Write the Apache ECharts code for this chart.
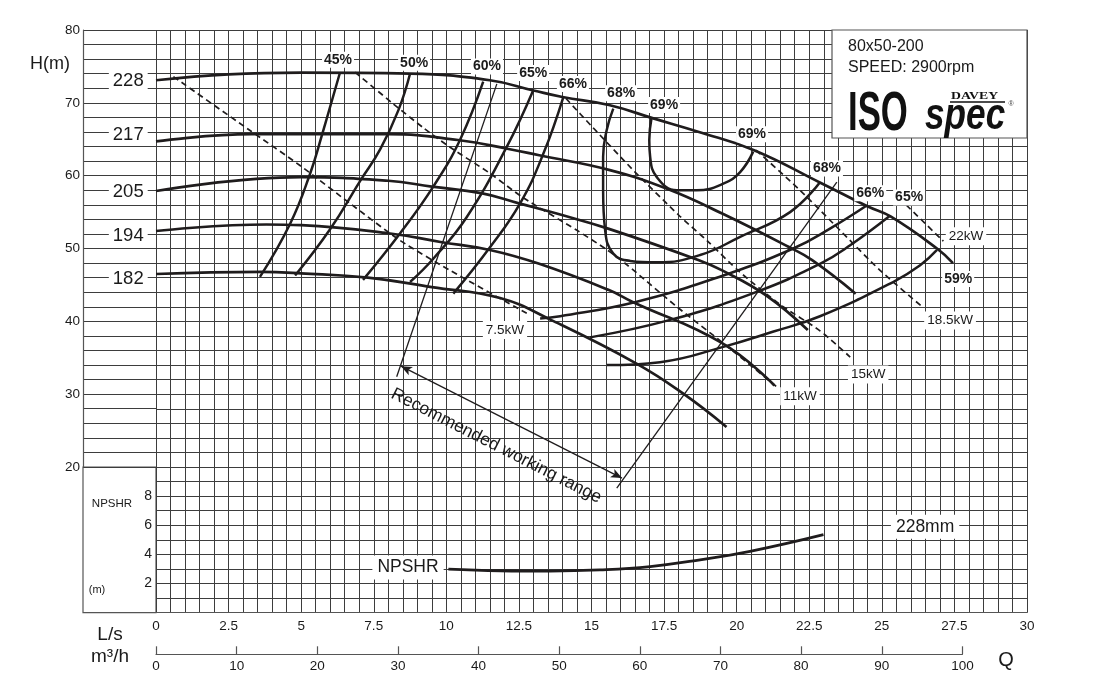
<!DOCTYPE html>
<html><head><meta charset="utf-8">
<script src="https://cdn.jsdelivr.net/npm/echarts@6/dist/echarts.min.js"></script>
<style>html,body{margin:0;padding:0;background:#fff}#c{width:1105px;height:697px}</style>
</head><body><div id="c"></div>
<script>
// ---------- tick labels ----------
const flowLsTicks = [0,2.5,5,7.5,10,12.5,15,17.5,20,22.5,25,27.5,30];
const flowM3hTicks = [0,10,20,30,40,50,60,70,80,90,100];
const headTicks = [20,30,40,50,60,70,80];
const npshTicks = [2,4,6,8];

// ---------- impeller H-Q curves [Q L/s, H m] ----------
const impellerNames = ['228','217','205','194','182'];
const impellerLabelHead = [73.0,65.6,57.8,51.7,45.8];
const h228 = [[0,73.1],[2.5,73.9],[5,74.15],[8.75,74.0],[11.5,73.1],[13,71.7],[14,70.8],[15.6,69.7],[17.1,67.9],[18.7,66.0],[20.6,63.5],[22.9,59.0],[24.5,55.8],[25.3,54.4],[26.9,50.0],[27.45,48.0]];
const h217 = [[0,64.7],[3.3,65.7],[8.0,65.7],[10.4,64.9],[12.1,63.7],[13.2,62.8],[15.6,60.8],[17.6,58.2],[19.5,54.8],[21.8,50.2],[22.6,48.4],[24.1,43.8]];
const h205 = [[0,57.9],[5.0,59.8],[8.0,59.3],[9.5,58.5],[11.2,57.6],[12.5,56.2],[13.8,54.8],[15.6,52.7],[18.7,48.4],[19.5,47.0],[21.0,43.6],[22.45,38.8]];
const h194 = [[0,52.4],[3.8,53.3],[5.0,53.2],[8.0,52.1],[9.8,50.9],[11.5,49.8],[13.2,47.9],[15.6,44.3],[16.4,42.7],[19.5,37.0],[21.3,31.2]];
const h182 = [[0,46.5],[3.6,46.8],[5.0,46.6],[7.3,46.0],[9.5,44.7],[11.85,43.2],[13.6,40.2],[16.55,34.2],[18.15,30.1],[19.65,25.5]];

// ---------- iso-efficiency curves ----------
const e45 = [[3.58,46.1],[4.62,53.4],[5.31,60.3],[5.71,65.5],[6.34,74.2]];
const e50 = [[4.79,46.3],[5.99,52.6],[7.05,59.4],[7.72,63.6],[8.35,69.0],[8.75,74.0]];
const e60 = [[7.13,45.7],[8.41,52.1],[9.55,58.5],[10.47,64.9],[11.27,72.9]];
const e65 = [[8.75,45.4],[9.55,48.6],[10.70,54.3],[12.08,63.95],[12.99,71.7]];
const e66 = [[10.24,43.8],[11.51,50.2],[12.54,56.2],[13.34,63.0],[14.03,70.8]];
const e68 = [[15.75,69.2],[15.52,66.2],[15.4,62.6],[15.4,58.0],[15.47,52.5],[15.75,49.3],[16.33,48.3],[17.25,48.1],[18.74,49.1],[20.12,51.6],[21.84,55.0],[22.87,59.1]];
const e69 = [[17.07,68.0],[16.99,64.9],[17.02,62.6],[17.25,59.8],[17.94,58.0],[18.62,58.0],[19.54,58.9],[20.12,60.5],[20.57,63.3]];
const e66R = [[13.23,40.4],[13.92,40.7],[16.56,42.7],[19.54,46.3],[21.95,50.0],[23.2,52.7],[24.48,55.9]];
const e65R = [[14.95,37.8],[17.71,40.2],[20.69,44.05],[22.87,47.9],[23.91,50.45],[25.28,54.5]];
const e59 = [[15.53,34.0],[17.36,34.4],[19.54,36.5],[21.27,38.6],[22.87,40.7],[25.39,45.4],[26.32,47.7],[26.9,49.8]];

// ---------- power lines (dashed) ----------
const p7_5 = [[0.6,73.6],[3.24,66.2],[4.96,61.4],[6.68,56.2],[8.41,51.1],[10.13,47.0],[12.77,41.1]];
const p11 = [[6.86,74.2],[8.16,69.9],[9.2,66.6],[10.13,63.9],[11.51,60.3],[12.64,57.0],[14.5,52.5],[15.54,49.8],[16.21,47.8],[17.94,42.0],[19.54,37.0],[21.38,31.0]];
const p15 = [[14.12,70.6],[15.05,66.6],[16.5,60.5],[18.0,54.6],[19.0,51.0],[20.1,46.8],[21.5,42.3],[22.87,38.7],[23.91,35.1]];
const p18_5 = [[20.67,63.5],[22.18,58.0],[23.56,52.5],[24.94,47.0],[26.42,41.9]];
const p22 = [[25.6,56.9],[27.12,51.0]];

// ---------- recommended working range ----------
const rangeLeft = [[8.29,32.4],[11.74,72.6]];
const rangeRight = [[15.87,17.1],[23.45,59.1]];
const rangeArrow = [[8.44,33.85],[16.05,18.48]];

// ---------- NPSHR [Q L/s, NPSHR m] ----------
const npshr = [[10.07,2.99],[11.85,2.88],[13.57,2.86],[15.29,2.94],[17.02,3.17],[18.74,3.63],[20.46,4.21],[22.99,5.36]];

// ---------- annotation labels [Q, H, text] ----------
const effLabels = [[6.27,75.9,'45%'],[8.89,75.5,'50%'],[11.40,75.0,'60%'],[12.99,74.1,'65%'],[14.36,72.6,'66%'],[16.02,71.3,'68%'],[17.5,69.7,'69%'],[20.53,65.7,'69%'],[23.11,61.0,'68%'],[24.6,57.6,'66%'],[25.94,57.0,'65%'],[27.63,45.8,'59%']];
const powerLabels = [[12.02,38.8,'7.5kW'],[22.18,29.7,'11kW'],[24.53,32.7,'15kW'],[27.35,40.1,'18.5kW'],[27.9,51.7,'22kW']];
const otherLabels = [[8.68,6.2,'NPSHR'],[26.49,11.8,'228mm']];
const rangeText = [[11.72,22.9,'Recommended working range']];

const FONT = '"Liberation Sans", Arial, Helvetica, sans-serif';
const INK = '#1f1c1d';
const GRIDC = '#3d3d3d';
const near = (arr, v) => arr.some(t => Math.abs(t - v) < 1e-6);

function curve(name, data, extra) {
  return Object.assign({
    type: 'line', name, data, xAxisIndex: 0, yAxisIndex: 0,
    symbol: 'none', showSymbol: false, smooth: 0.45, silent: true, z: 3,
    lineStyle: { color: INK, width: 2.7 }
  }, extra || {});
}
const eff = { lineStyle: { color: INK, width: 2.5 } };
const dashed = { lineStyle: { color: INK, width: 1.7, type: [6, 4] }, smooth: 0.25, z: 2 };
const thin = { lineStyle: { color: INK, width: 1.3 }, smooth: false, z: 2 };

function labelSeries(data, label, xi, yi) {
  return {
    type: 'scatter', xAxisIndex: xi || 0, yAxisIndex: yi || 0, silent: true, z: 10,
    symbolSize: 0.01, itemStyle: { color: '#fff', opacity: 1 },
    data: data,
    label: Object.assign({
      show: true, position: 'inside', formatter: p => p.data[2], opacity: 1,
      color: '#1a1a1a', fontFamily: FONT, backgroundColor: '#fff'
    }, label)
  };
}

const series = [
  curve('228', h228), curve('217', h217), curve('205', h205), curve('194', h194), curve('182', h182),
  curve('45%', e45, eff), curve('50%', e50, eff), curve('60%', e60, eff), curve('65%', e65, eff), curve('66%', e66, eff),
  curve('68%', e68, eff), curve('69%', e69, eff),
  curve('66% R', e66R, eff), curve('65% R', e65R, eff), curve('59%', e59, eff),
  curve('7.5kW', p7_5, dashed), curve('11kW', p11, dashed), curve('15kW', p15, dashed),
  curve('18.5kW', p18_5, dashed), curve('22kW', p22, dashed),
  curve('range L', rangeLeft, thin), curve('range R', rangeRight, thin),
  {
    type: 'line', xAxisIndex: 0, yAxisIndex: 0, data: [], silent: true, z: 2,
    markLine: {
      silent: true, animation: false, symbol: ['arrow', 'arrow'], symbolSize: [7, 11],
      label: { show: false },
      lineStyle: { color: INK, width: 1.3, type: 'solid' },
      data: [[{ coord: rangeArrow[0] }, { coord: rangeArrow[1] }]]
    }
  },
  curve('NPSHR', npshr, { yAxisIndex: 1, lineStyle: { color: INK, width: 2.8 } }),
  labelSeries(effLabels, { fontSize: 14, fontWeight: 'bold', padding: [1, 2] }),
  labelSeries(powerLabels, { fontSize: 13.5, padding: [2, 3] }),
  labelSeries(otherLabels, { fontSize: 17.5, padding: [3, 5] }),
  labelSeries(rangeText, { fontSize: 17.5, rotate: -27, backgroundColor: 'transparent' }),
  labelSeries(impellerNames.map((n, i) => [0.62, impellerLabelHead[i], n]), { fontSize: 18.5, padding: [1, 4] }, 1, 2)
];

const axisLineStyle = { color: '#555', width: 1.2 };
const splitStyle = { show: true, lineStyle: { color: GRIDC, width: 1 } };

const option = {
  animation: false,
  backgroundColor: '#fff',
  textStyle: { fontFamily: FONT },
  grid: [
    { left: 156, right: 78, top: 30, bottom: 84.3 },
    { left: 83, width: 73, top: 30, bottom: 230 },
    { left: 83, width: 73, top: 467, bottom: 84.3, show: true, borderColor: '#555', borderWidth: 1.2, backgroundColor: 'transparent' },
    { left: 156, right: 142.6, top: 600, bottom: 42.7 }
  ],
  xAxis: [
    { type: 'value', gridIndex: 0, min: 0, max: 30, interval: 0.5,
      axisLine: { show: true, onZero: false, lineStyle: axisLineStyle }, axisTick: { show: false },
      axisLabel: { formatter: v => near(flowLsTicks, v) ? String(v) : '', margin: 7, color: '#1a1a1a', fontSize: 13.5, fontFamily: FONT, showMinLabel: true, showMaxLabel: true },
      splitLine: splitStyle },
    { type: 'value', gridIndex: 1, min: 0, max: 1, show: false },
    { type: 'value', gridIndex: 2, min: 0, max: 1, show: false },
    { type: 'value', gridIndex: 3, min: 0, max: 100, interval: 10,
      axisLine: { show: true, onZero: false, lineStyle: axisLineStyle },
      axisTick: { show: true, inside: true, length: 8, lineStyle: axisLineStyle },
      axisLabel: { formatter: v => near(flowM3hTicks, v) ? String(v) : '', margin: 5, color: '#1a1a1a', fontSize: 13.5, fontFamily: FONT, showMinLabel: true, showMaxLabel: true },
      splitLine: { show: false } }
  ],
  yAxis: [
    { type: 'value', gridIndex: 0, min: 0, max: 80, interval: 2,
      axisLine: { show: false }, axisTick: { show: false }, axisLabel: { show: false }, splitLine: splitStyle },
    { type: 'value', gridIndex: 0, min: 0, max: 40, interval: 2, position: 'left',
      axisLine: { show: false }, axisTick: { show: false }, splitLine: { show: false },
      axisLabel: { formatter: v => near(npshTicks, v) ? String(v) : '', margin: 4, color: '#1a1a1a', fontSize: 14, fontFamily: FONT } },
    { type: 'value', gridIndex: 1, min: 20, max: 80, interval: 2,
      axisLine: { show: true, lineStyle: axisLineStyle }, axisTick: { show: false },
      axisLabel: { formatter: v => near(headTicks, v) ? String(v) : '', margin: 3, color: '#1a1a1a', fontSize: 13.5, fontFamily: FONT, showMinLabel: true, showMaxLabel: true },
      splitLine: splitStyle },
    { type: 'value', gridIndex: 2, show: false, min: 0, max: 1 },
    { type: 'value', gridIndex: 3, show: false, min: 0, max: 1 }
  ],
  series: series,
  graphic: [
    { type: 'text', x: 50, y: 64, z: 20, style: { text: 'H(m)', font: '18px ' + FONT, fill: '#1a1a1a', align: 'center', verticalAlign: 'middle', textAlign: 'center', textVerticalAlign: 'middle' } },
    { type: 'text', x: 112, y: 504, z: 20, style: { text: 'NPSHR', font: '11.5px ' + FONT, fill: '#1a1a1a', align: 'center', verticalAlign: 'middle', textAlign: 'center', textVerticalAlign: 'middle' } },
    { type: 'text', x: 97, y: 590, z: 20, style: { text: '(m)', font: '11px ' + FONT, fill: '#1a1a1a', align: 'center', verticalAlign: 'middle', textAlign: 'center', textVerticalAlign: 'middle' } },
    { type: 'text', x: 110, y: 635, z: 20, style: { text: 'L/s', font: '19px ' + FONT, fill: '#1a1a1a', align: 'center', verticalAlign: 'middle', textAlign: 'center', textVerticalAlign: 'middle' } },
    { type: 'text', x: 110, y: 657, z: 20, style: { text: 'm\u00b3/h', font: '19px ' + FONT, fill: '#1a1a1a', align: 'center', verticalAlign: 'middle', textAlign: 'center', textVerticalAlign: 'middle' } },
    { type: 'text', x: 1006, y: 660, z: 20, style: { text: 'Q', font: '20px ' + FONT, fill: '#1a1a1a', align: 'center', verticalAlign: 'middle', textAlign: 'center', textVerticalAlign: 'middle' } },
    { type: 'rect', z: 20, shape: { x: 832, y: 30, width: 195, height: 108 }, style: { fill: '#fff', stroke: '#555', lineWidth: 1.2 } },
    { type: 'text', x: 848, y: 47, z: 21, style: { text: '80x50-200', font: '16px ' + FONT, fill: '#1a1a1a', align: 'left', verticalAlign: 'middle', textAlign: 'left', textVerticalAlign: 'middle' } },
    { type: 'text', x: 848, y: 68, z: 21, style: { text: 'SPEED: 2900rpm', font: '16px ' + FONT, fill: '#1a1a1a', align: 'left', verticalAlign: 'middle', textAlign: 'left', textVerticalAlign: 'middle' } },
    { type: 'text', x: 848, y: 115, scaleX: 0.62, z: 21, style: { text: 'ISO', font: 'bold 56px ' + FONT, fill: '#111', align: 'left', verticalAlign: 'middle', textAlign: 'left', textVerticalAlign: 'middle' } },
    { type: 'text', x: 925, y: 117, scaleX: 0.8, z: 21, style: { text: 'spec', font: 'italic bold 44px ' + FONT, fill: '#111', align: 'left', verticalAlign: 'middle', textAlign: 'left', textVerticalAlign: 'middle' } },
    { type: 'text', x: 951, y: 96, scaleX: 1.25, z: 21, style: { text: 'DAVEY', font: 'bold 11px "Liberation Serif", serif', fill: '#111', align: 'left', verticalAlign: 'middle', textAlign: 'left', textVerticalAlign: 'middle' } },
    { type: 'line', z: 21, shape: { x1: 950, y1: 102, x2: 1005, y2: 102 }, style: { stroke: '#111', lineWidth: 1.3 } },
    { type: 'text', x: 1011, y: 104, z: 21, style: { text: '\u00ae', font: '7px ' + FONT, fill: '#444', align: 'center', verticalAlign: 'middle', textAlign: 'center', textVerticalAlign: 'middle' } }
  ]
};

const chart = echarts.init(document.getElementById('c'), null, { renderer: 'canvas' });
chart.setOption(option);
</script>
</body></html>
